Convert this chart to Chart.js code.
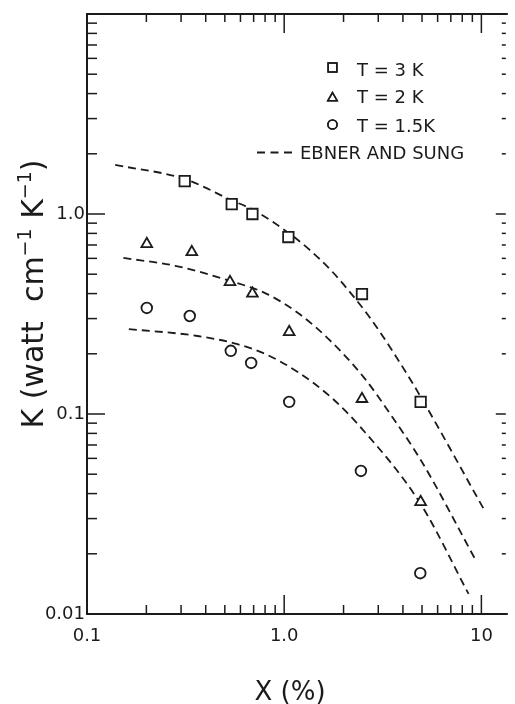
<!DOCTYPE html>
<html>
<head>
<meta charset="utf-8">
<script src="https://cdn.jsdelivr.net/npm/chart.js@4.4.1/dist/chart.umd.min.js"></script>
<style>
  html, body { margin: 0; padding: 0; background: #fff; }
  #wrap { width: 515px; height: 704px; }
</style>
</head>
<body>
<div id="wrap"><canvas id="kappa" width="515" height="704"></canvas></div>
<script>
// measured K vs concentration X, one set per temperature
const x3K = [0.313, 0.542, 0.69, 1.05, 2.48, 4.92];
const k3K = [1.46, 1.12, 1.0, 0.767, 0.398, 0.115];
const x2K = [0.201, 0.34, 0.531, 0.69, 1.06, 2.48, 4.92];
const k2K = [0.708, 0.645, 0.457, 0.40, 0.257, 0.119, 0.0363];
const x15K = [0.201, 0.332, 0.536, 0.68, 1.06, 2.45, 4.9];
const k15K = [0.339, 0.309, 0.207, 0.18, 0.115, 0.0519, 0.016];

// Ebner and Sung curves
const xTh3K = [0.139, 0.313, 0.542, 0.698, 1.077, 1.32, 1.74, 2.26, 2.75, 3.57, 4.75, 10.35];
const kTh3K = [1.76, 1.496, 1.17, 1.047, 0.791, 0.673, 0.519, 0.384, 0.299, 0.204, 0.1294, 0.0331];
const xTh2K = [0.153, 0.28, 0.531, 0.81, 1.18, 1.74, 2.54, 3.49, 5.03, 9.44];
const kTh2K = [0.603, 0.551, 0.463, 0.40, 0.319, 0.229, 0.152, 0.0984, 0.0569, 0.0183];
const xTh15K = [0.163, 0.364, 0.574, 0.81, 1.18, 1.74, 2.45, 4.92, 8.61];
const kTh15K = [0.266, 0.2455, 0.224, 0.1986, 0.1614, 0.1205, 0.0855, 0.0355, 0.0126];

// axis labels
const xTickValues = [0.1, 1, 10];
const xTickLabels = ['0.1', '1.0', '10'];
const yTickValues = [0.01, 0.1, 1];
const yTickLabels = ['0.01', '0.1', '1.0'];
const xDecades = [0.1, 1, 10];
const yDecades = [0.01, 0.1, 1, 10];
const minorSteps = [2, 3, 4, 5, 6, 7, 8, 9];

const seriesLabels = ['T = 3 K', 'T = 2 K', 'T = 1.5K'];
const theoryLabel = 'EBNER AND SUNG';

const ink = '#1b1b1b';
const font = 'DejaVu Sans';

const pts = (xs, ys) => xs.map((x, i) => ({ x: x, y: ys[i] }));

const markerSet = (label, xs, ys, style, r) => ({
  label: label,
  data: pts(xs, ys),
  pointStyle: style,
  pointRadius: r,
  pointBorderWidth: 1.8,
  pointBorderColor: ink,
  pointBackgroundColor: '#fff',
  showLine: false,
  order: 1
});

const theorySet = (xs, ys) => ({
  label: theoryLabel,
  data: pts(xs, ys),
  showLine: true,
  borderColor: ink,
  borderWidth: 1.8,
  borderDash: [8, 5],
  pointRadius: 0,
  cubicInterpolationMode: 'monotone',
  order: 2
});

// frame, inward ticks, axis titles and the key
const decorations = {
  id: 'decorations',
  afterDraw(chart) {
    const c = chart.ctx;
    const a = chart.chartArea;
    const sx = chart.scales.x;
    const sy = chart.scales.y;
    c.save();
    c.strokeStyle = ink;
    c.fillStyle = ink;

    // frame (right edge sits at the canvas border)
    c.lineWidth = 2;
    c.beginPath();
    c.moveTo(a.right + 2, a.top);
    c.lineTo(a.left, a.top);
    c.lineTo(a.left, a.bottom);
    c.lineTo(a.right + 2, a.bottom);
    c.stroke();

    c.lineWidth = 1.5;
    const line = (x1, y1, x2, y2) => {
      c.beginPath();
      c.moveTo(x1, y1);
      c.lineTo(x2, y2);
      c.stroke();
    };

    xDecades.forEach(d => {
      const vals = [{ v: d, major: true }].concat(minorSteps.map(m => ({ v: d * m, major: false })));
      vals.forEach(t => {
        if (t.v <= sx.min * 1.001 || t.v > sx.max) return;
        const px = sx.getPixelForValue(t.v);
        line(px, a.bottom, px, a.bottom - (t.major ? 19 : 9));
        line(px, a.top, px, a.top + (t.major ? 19 : 8));
      });
    });
    yDecades.forEach(d => {
      const vals = [{ v: d, major: true }].concat(minorSteps.map(m => ({ v: d * m, major: false })));
      vals.forEach(t => {
        if (t.v <= sy.min * 1.001 || t.v >= sy.max * 0.999) return;
        const py = sy.getPixelForValue(t.v);
        line(a.left, py, a.left + (t.major ? 18 : 10), py);
        line(a.right, py, a.right - (t.major ? 10 : 4), py);
      });
    });

    // x title
    c.font = '26px "' + font + '"';
    c.textAlign = 'center';
    c.textBaseline = 'alphabetic';
    c.fillText('X (%)', 290, 700);

    // y title, rotated, with raised exponents
    const big = '30px "' + font + '"';
    const small = '19px "' + font + '"';
    const parts = [
      { t: 'K (watt  cm', f: big, dy: 0 },
      { t: '\u2212' + '1', f: small, dy: -12 },
      { t: ' K', f: big, dy: 0 },
      { t: '\u2212' + '1', f: small, dy: -12 },
      { t: ')', f: big, dy: 0 }
    ];
    let total = 0;
    parts.forEach(p => { c.font = p.f; p.w = c.measureText(p.t).width; total += p.w; });
    c.translate(43, 294);
    c.rotate(-Math.PI / 2);
    c.textAlign = 'left';
    let pos = -total / 2;
    parts.forEach(p => {
      c.font = p.f;
      c.fillText(p.t, pos, p.dy);
      pos += p.w;
    });
    c.setTransform(1, 0, 0, 1, 0, 0);

    // key
    const keyRows = [
      { ds: 0, y: 67.5, base: 76, r: 6.2 },
      { ds: 1, y: 98, base: 103, r: 5.4 },
      { ds: 2, y: 124.5, base: 132, r: 4.6 }
    ];
    c.font = '18px "' + font + '"';
    c.textAlign = 'left';
    keyRows.forEach(row => {
      const ds = chart.data.datasets[row.ds];
      c.fillStyle = '#fff';
      Chart.helpers.drawPoint(c, {
        pointStyle: ds.pointStyle, radius: row.r, borderWidth: 1.6, rotation: 0
      }, 332.5, row.y);
      c.stroke();
      c.fillStyle = ink;
      c.fillText(ds.label, 357, row.base);
    });
    c.lineWidth = 1.8;
    c.setLineDash([8, 5.5]);
    line(257, 152.5, 292, 152.5);
    c.setLineDash([]);
    c.fillText(theoryLabel, 300, 159);

    c.restore();
  }
};

new Chart(document.getElementById('kappa'), {
  type: 'scatter',
  data: {
    datasets: [
      markerSet(seriesLabels[0], x3K, k3K, 'rect', 7.4),
      markerSet(seriesLabels[1], x2K, k2K, 'triangle', 6.2),
      markerSet(seriesLabels[2], x15K, k15K, 'circle', 5.3),
      theorySet(xTh3K, kTh3K),
      theorySet(xTh2K, kTh2K),
      theorySet(xTh15K, kTh15K)
    ]
  },
  options: {
    responsive: false,
    animation: false,
    layout: { padding: { top: 14, right: 0, bottom: 0, left: 0 } },
    plugins: {
      legend: { display: false },
      tooltip: { enabled: false }
    },
    scales: {
      x: {
        type: 'logarithmic',
        min: 0.1,
        max: 13.3,
        grid: { display: false, drawTicks: false },
        border: { display: false },
        afterBuildTicks(scale) { scale.ticks = xTickValues.map(v => ({ value: v })); },
        afterFit(scale) { scale.height = 90; },
        ticks: {
          autoSkip: false,
          maxRotation: 0,
          padding: 12,
          color: ink,
          font: { family: font, size: 18 },
          callback: (v, i) => xTickLabels[i]
        }
      },
      y: {
        type: 'logarithmic',
        min: 0.01,
        max: 10,
        grid: { display: false, drawTicks: false },
        border: { display: false },
        afterBuildTicks(scale) { scale.ticks = yTickValues.map(v => ({ value: v })); },
        afterFit(scale) { scale.width = 87; },
        ticks: {
          autoSkip: false,
          padding: 2,
          color: ink,
          font: { family: font, size: 18 },
          callback: (v, i) => yTickLabels[i]
        }
      }
    }
  },
  plugins: [decorations]
});
</script>
</body>
</html>
